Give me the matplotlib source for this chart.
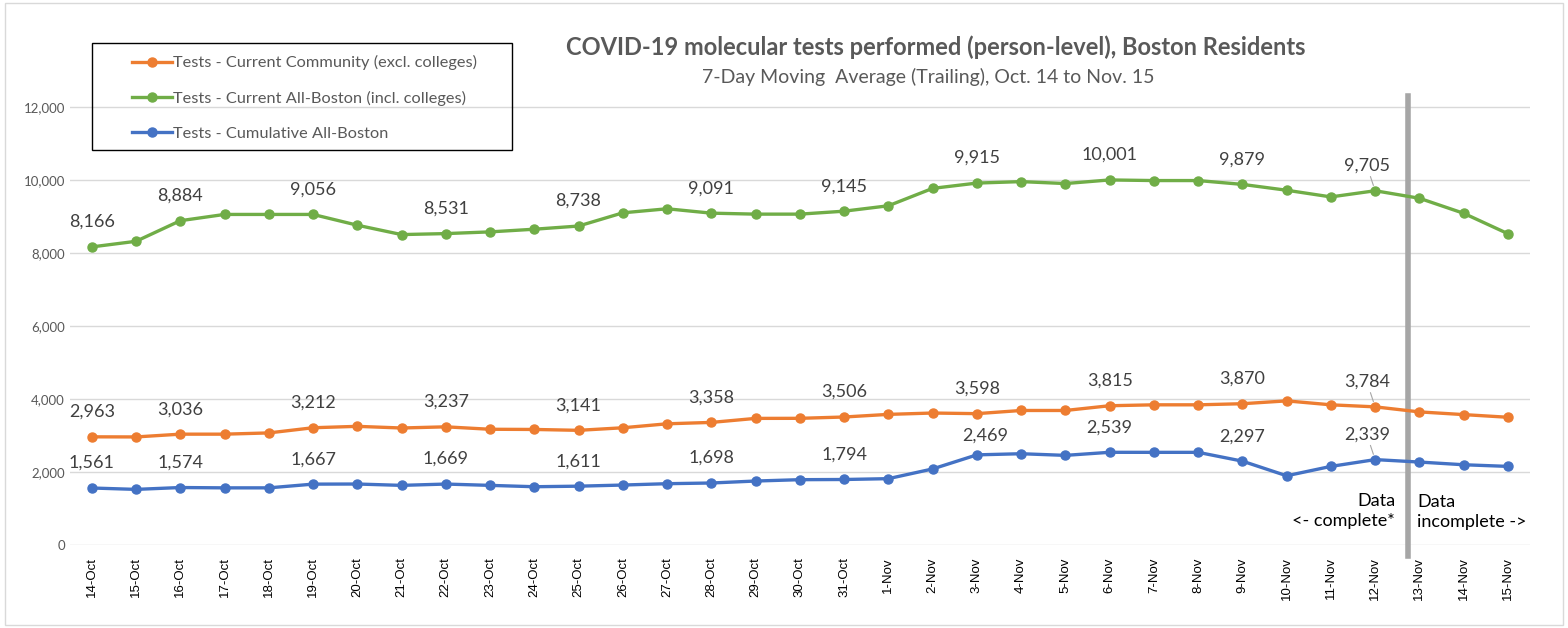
import matplotlib
matplotlib.use("Agg")
import matplotlib.pyplot as plt
from matplotlib.patches import Rectangle

plt.rcParams["font.family"] = ["Lato", "DejaVu Sans"]

dates = [
    "14-Oct", "15-Oct", "16-Oct", "17-Oct", "18-Oct", "19-Oct", "20-Oct", "21-Oct",
    "22-Oct", "23-Oct", "24-Oct", "25-Oct", "26-Oct", "27-Oct", "28-Oct", "29-Oct",
    "30-Oct", "31-Oct", "1-Nov", "2-Nov", "3-Nov", "4-Nov", "5-Nov", "6-Nov",
    "7-Nov", "8-Nov", "9-Nov", "10-Nov", "11-Nov", "12-Nov", "13-Nov", "14-Nov", "15-Nov",
]

community = [
    2963, 2960, 3036, 3036, 3070, 3212, 3250, 3205, 3237, 3170, 3165, 3141,
    3211, 3320, 3358, 3468, 3470, 3506, 3578, 3615, 3598, 3685, 3685, 3815,
    3840, 3840, 3870, 3948, 3840, 3784, 3646, 3572, 3499,
]
all_boston = [
    8166, 8320, 8884, 9056, 9056, 9056, 8761, 8504, 8531, 8578, 8651, 8738,
    9100, 9211, 9091, 9064, 9064, 9145, 9293, 9770, 9915, 9955, 9902, 10001,
    9984, 9984, 9879, 9719, 9536, 9705, 9499, 9087, 8528,
]
cumulative = [
    1561, 1523, 1574, 1565, 1565, 1667, 1670, 1633, 1669, 1633, 1596, 1611,
    1642, 1679, 1698, 1752, 1789, 1794, 1817, 2083, 2469, 2500, 2455, 2539,
    2538, 2538, 2297, 1896, 2153, 2339, 2272, 2198, 2153,
]

series = [
    ("Tests - Current Community (excl. colleges)", community, "#ED7D31"),
    ("Tests - Current All-Boston (incl. colleges)", all_boston, "#70AD47"),
    ("Tests - Cumulative All-Boston", cumulative, "#4472C4"),
]
label_idx = [0, 2, 5, 8, 11, 14, 17, 20, 23, 26, 29]
y_ticks = [0, 2000, 4000, 6000, 8000, 10000, 12000]
split_pos = 29.75  # between 12-Nov and 13-Nov

fig = plt.figure(figsize=(15.68, 6.28), dpi=100)
fig.patches.append(Rectangle((0.003, 0.005), 0.994, 0.99, transform=fig.transFigure,
                             fill=False, edgecolor="#D9D9D9", lw=1))
ax = fig.add_axes([0.0444, 0.1322, 0.9314, 0.8137])

x = list(range(len(dates)))
handles = []
for name, vals, color in series:
    h, = ax.plot(x, vals, color=color, lw=2.4, marker="o", markersize=6.5,
                 label=name, zorder=3)
    handles.append(h)
    for i in label_idx:
        dx, dy = 0, 18
        arrow = None
        if i == 29:
            dx = -6
            arrow = dict(arrowstyle="-", color="#A6A6A6", lw=0.8, shrinkA=0, shrinkB=4)
        if i == 20 and vals is cumulative:
            dx, dy = 6, 14
        ax.annotate(f"{vals[i]:,}", (i, vals[i]), xytext=(dx, dy),
                    textcoords="offset points", ha="center", va="center",
                    fontsize=13, color="#404040", arrowprops=arrow, zorder=4)

ax.set_xlim(-0.5, len(dates) - 0.5)
ax.set_ylim(0, 14000)
ax.set_yticks(y_ticks)
ax.set_yticklabels([f"{v:,}" for v in y_ticks], fontsize=9.5, color="#595959")
ax.set_xticks(x)
ax.set_xticklabels(dates, rotation=90, fontsize=9.5, family="Liberation Sans")
ax.tick_params(length=0)
ax.tick_params(axis="x", pad=9)
ax.grid(axis="y", color="#D9D9D9", lw=1)
ax.set_axisbelow(True)
for s in ax.spines.values():
    s.set_visible(False)

# split marker between complete and incomplete data
ax.plot([split_pos, split_pos], [-300, 12300], color="#A6A6A6", lw=4,
        clip_on=False, zorder=2)
ax.text(split_pos - 0.3, 920, "Data\n<- complete*", ha="right", va="center",
        fontsize=13, color="black", linespacing=1.3, multialignment="right")
ax.text(split_pos + 0.2, 900, "Data\nincomplete ->", ha="left", va="center",
        fontsize=13, color="black", linespacing=1.3)

fig.text(0.5966, 0.925, "COVID-19 molecular tests performed (person-level), Boston Residents",
         ha="center", va="center", fontsize=17, fontweight="bold", color="#595959")
fig.text(0.592, 0.877, "7-Day Moving  Average (Trailing), Oct. 14 to Nov. 15",
         ha="center", va="center", fontsize=14, color="#595959")

# legend box
fig.patches.append(Rectangle((92 / 1568, 1 - 150 / 628), 420 / 1568, 107 / 628,
                             transform=fig.transFigure, fill=False,
                             edgecolor="black", lw=1))
leg = fig.legend(handles=handles, loc="upper left",
                 bbox_to_anchor=(124 / 1568, 1 - 47 / 628), frameon=False,
                 fontsize=11.8, handlelength=2.4, handletextpad=0.1,
                 labelspacing=1.25, borderpad=0)
for t in leg.get_texts():
    t.set_color("#595959")

fig.savefig("out.png", dpi=100)
